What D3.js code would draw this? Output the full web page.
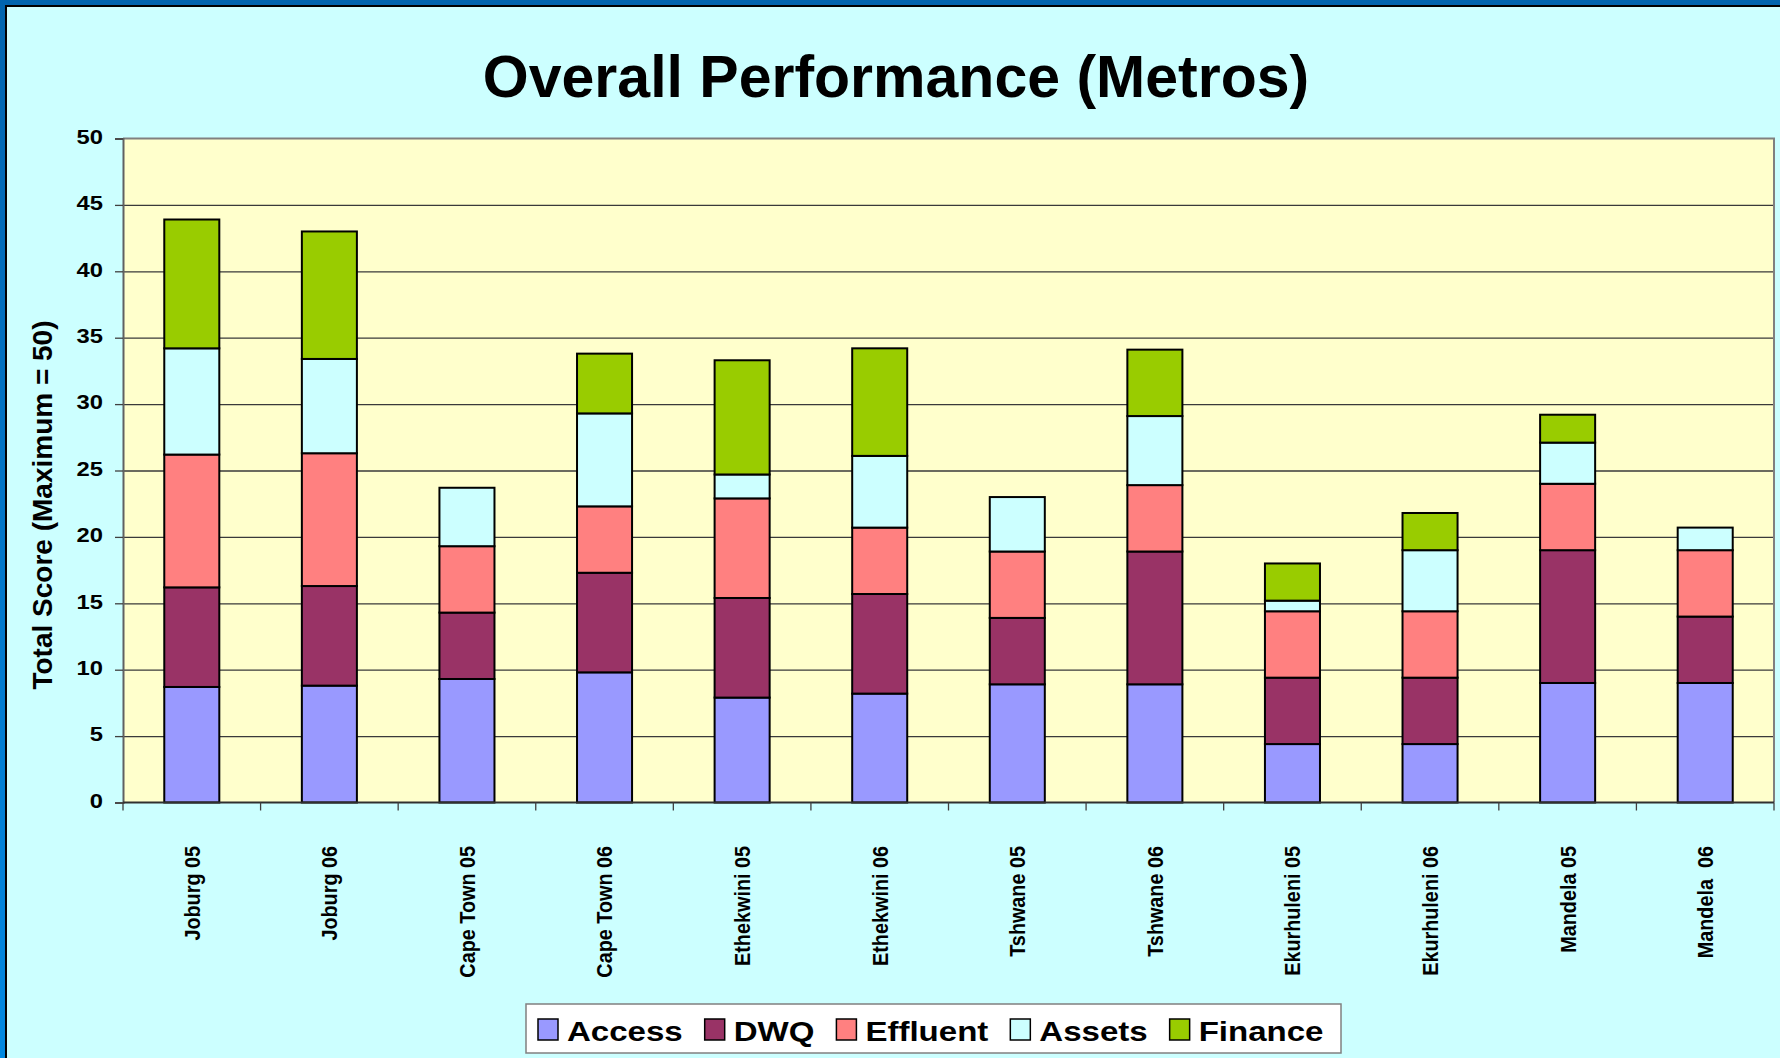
<!DOCTYPE html>
<html>
<head>
<meta charset="utf-8">
<script src="https://cdn.jsdelivr.net/npm/d3@7"></script>
<style>
  body { margin: 0; background: #ccffff; }
  svg { display: block; font-family: "Liberation Sans", Arial, sans-serif; font-weight: bold; }
</style>
</head>
<body>
<svg id="chart"></svg>
<script>
// ---- data ----
var categories = ["Joburg 05", "Joburg 06", "Cape Town 05", "Cape Town 06", "Ethekwini 05", "Ethekwini 06",
                  "Tshwane 05", "Tshwane 06", "Ekurhuleni 05", "Ekurhuleni 06", "Mandela 05", "Mandela  06"];
var access   = [8.7, 8.8, 9.3, 9.8, 7.9, 8.2, 8.9, 8.9, 4.4, 4.4, 9.0, 9.0];
var dwq      = [7.5, 7.5, 5.0, 7.5, 7.5, 7.5, 5.0, 10.0, 5.0, 5.0, 10.0, 5.0];
var effluent = [10.0, 10.0, 5.0, 5.0, 7.5, 5.0, 5.0, 5.0, 5.0, 5.0, 5.0, 5.0];
var assets   = [8.0, 7.1, 4.4, 7.0, 1.8, 5.4, 4.1, 5.2, 0.8, 4.6, 3.1, 1.7];
var finance  = [9.7, 9.6, 0, 4.5, 8.6, 8.1, 0, 5.0, 2.8, 2.8, 2.1, 0];
var seriesNames = ["Access", "DWQ", "Effluent", "Assets", "Finance"];
var yTicks = [0, 5, 10, 15, 20, 25, 30, 35, 40, 45, 50];

var colors = ["#9999ff", "#993366", "#ff8080", "#ccffff", "#99cc00"];

var width = 1780, height = 1058,
    plot = { left: 123, right: 1774, top: 138.5, bottom: 802.5 };

var svg = d3.select("#chart").attr("width", width).attr("height", height);
var defs = svg.append("defs");

// left frame gradient
var grad = defs.append("linearGradient").attr("id", "leftFrame")
    .attr("x1", 0).attr("x2", 0).attr("y1", 0).attr("y2", 1);
grad.append("stop").attr("offset", "0%").attr("stop-color", "#0064ae");
grad.append("stop").attr("offset", "100%").attr("stop-color", "#0088e0");

svg.append("rect").attr("width", width).attr("height", height).attr("fill", "#ccffff");

// frame
svg.append("rect").attr("x", 0).attr("y", 0).attr("width", width).attr("height", 5).attr("fill", "#0064ae");
svg.append("rect").attr("x", 0).attr("y", 0).attr("width", 5).attr("height", height).attr("fill", "url(#leftFrame)");
svg.append("rect").attr("x", 5).attr("y", 5).attr("width", width - 5).attr("height", 2).attr("fill", "#000");
svg.append("rect").attr("x", 5).attr("y", 5).attr("width", 2).attr("height", height - 5).attr("fill", "#000");

// title
svg.append("text")
    .attr("x", 896).attr("y", 97)
    .attr("text-anchor", "middle")
    .attr("font-size", 59)
    .attr("fill", "#000")
    .text("Overall Performance (Metros)");

// scales
var x = d3.scaleBand()
    .domain(categories)
    .range([plot.left, plot.right])
    .paddingInner(0.6)
    .paddingOuter(0.3);

var y = d3.scaleLinear().domain([0, 50]).range([plot.bottom, plot.top]);

// plot background
svg.append("rect")
    .attr("x", plot.left).attr("y", plot.top)
    .attr("width", plot.right - plot.left).attr("height", plot.bottom - plot.top)
    .attr("fill", "#ffffcc");

// gridlines
svg.append("g")
    .attr("transform", `translate(${plot.left},0)`)
    .call(d3.axisLeft(y).tickValues(yTicks.filter(d => d > 0 && d < 50)).tickSize(-(plot.right - plot.left)).tickFormat(""))
    .call(g => g.select(".domain").remove())
    .call(g => g.selectAll("line").attr("stroke", "#3a3a3a").attr("stroke-width", 1.3));

// plot border top / right
svg.append("path")
    .attr("d", `M${plot.left},${plot.top}H${plot.right}V${plot.bottom}`)
    .attr("fill", "none").attr("stroke", "#808080").attr("stroke-width", 2);

// stacked bars
var table = categories.map((c, i) => ({
    cat: c, Access: access[i], DWQ: dwq[i], Effluent: effluent[i], Assets: assets[i], Finance: finance[i]
}));
var stacked = d3.stack().keys(seriesNames)(table);

svg.append("g")
    .selectAll("g")
    .data(stacked)
    .enter()
    .append("g")
    .attr("fill", (d, i) => colors[i])
    .selectAll("rect")
    .data(d => d.filter(p => p[1] - p[0] > 0))
    .enter()
    .append("rect")
    .attr("x", d => x(d.data.cat))
    .attr("y", d => y(d[1]))
    .attr("width", x.bandwidth())
    .attr("height", d => y(d[0]) - y(d[1]))
    .attr("stroke", "#000")
    .attr("stroke-width", 2);

// y axis
svg.append("g")
    .attr("transform", `translate(${plot.left},0)`)
    .call(d3.axisLeft(y).tickValues(yTicks).tickSize(8).tickPadding(12))
    .call(g => g.select(".domain").attr("stroke", "#606060").attr("stroke-width", 2))
    .call(g => g.selectAll(".tick line").attr("stroke", "#404040").attr("stroke-width", 1.3))
    .call(g => g.selectAll(".tick text")
        .attr("x", 0)
        .attr("dy", "0.25em")
        .attr("transform", "translate(-20,0) scale(1.22,1)")
        .attr("font-family", "'Liberation Sans', Arial, sans-serif")
        .attr("font-weight", "bold")
        .attr("font-size", 19.5)
        .attr("fill", "#000"));

// x axis line + ticks at band boundaries
var step = x.step();
var xAxis = svg.append("g");
xAxis.append("line")
    .attr("x1", plot.left).attr("x2", plot.right)
    .attr("y1", plot.bottom).attr("y2", plot.bottom)
    .attr("stroke", "#303030").attr("stroke-width", 2);
xAxis.selectAll("line.tk")
    .data(d3.range(categories.length + 1))
    .enter()
    .append("line")
    .attr("class", "tk")
    .attr("x1", i => plot.left + i * step).attr("x2", i => plot.left + i * step)
    .attr("y1", plot.bottom).attr("y2", plot.bottom + 8)
    .attr("stroke", "#404040").attr("stroke-width", 1.3);

// x labels (rotated)
xAxis.selectAll("text")
    .data(categories)
    .enter()
    .append("text")
    .attr("transform", d => `translate(${x(d) + x.bandwidth() / 2},846) rotate(-90) scale(0.88,1)`)
    .attr("text-anchor", "end")
    .attr("dy", "0.35em")
    .attr("font-size", 22.5)
    .attr("fill", "#000")
    .style("white-space", "pre")
    .text(d => d);

// y axis title
svg.append("text")
    .attr("transform", "translate(52,505) rotate(-90)")
    .attr("text-anchor", "middle")
    .attr("font-size", 28)
    .attr("fill", "#000")
    .text("Total Score (Maximum = 50)");

// legend
var legend = svg.append("g");
legend.append("rect")
    .attr("x", 526).attr("y", 1004).attr("width", 815).attr("height", 49)
    .attr("fill", "#fff").attr("stroke", "#808080").attr("stroke-width", 1.5);

var lx = 538;
seriesNames.forEach(function(name, i) {
    legend.append("rect")
        .attr("x", lx).attr("y", 1019).attr("width", 20).attr("height", 21)
        .attr("fill", colors[i]).attr("stroke", "#000").attr("stroke-width", 1.5);
    var t = legend.append("text")
        .attr("transform", `translate(${lx + 29},1041) scale(1.18,1)`)
        .attr("font-size", 28)
        .attr("fill", "#000")
        .text(name);
    var w = t.node().getComputedTextLength() * 1.18;
    lx = lx + 29 + w + 22;
});
</script>
</body>
</html>
